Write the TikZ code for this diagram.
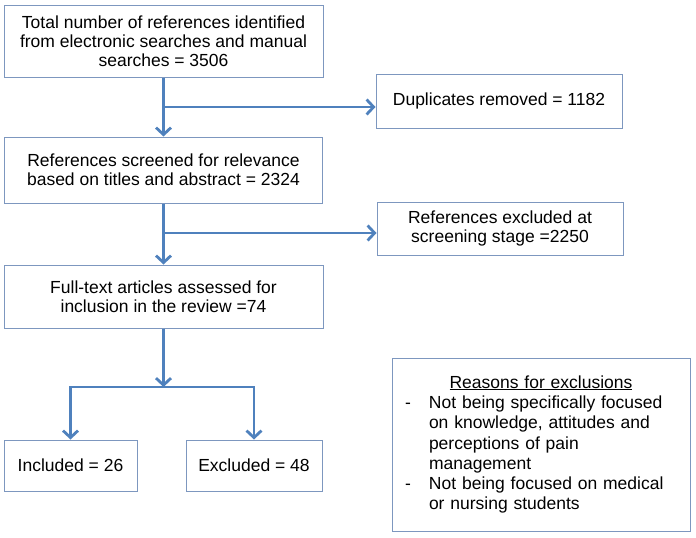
\documentclass[tikz,border=0pt]{standalone}
\usepackage{fontspec}
\setmainfont{Liberation Sans}
\usetikzlibrary{arrows.meta}
\definecolor{flowblue}{HTML}{4F81BD}
\definecolor{boxedge}{HTML}{7D97BF}
\begin{document}
\begin{tikzpicture}[x=1pt, y=-1pt,
	flowbox/.style={draw=boxedge, line width=1pt, align=center, inner sep=0, font=\fontsize{17.5}{19}\selectfont},
	flowarrow/.style={draw=flowblue, line width=2.8pt, -{Straight Barb[length=7pt,width=15pt]}}]
\useasboundingbox (0,0) rectangle (696,538);

\node [flowbox, minimum width=319, minimum height=72] (total) at (163.5,41) {Total number of references identified\\from electronic searches and manual\\searches = 3506};
\node [flowbox, minimum width=318, minimum height=66] (screened) at (163.5,170) {References screened for relevance\\based on titles and abstract = 2324};
\node [flowbox, minimum width=319, minimum height=63] (fulltext) at (163.5,296.5) {Full-text articles assessed for\\inclusion in the review =74};
\node [flowbox, minimum width=133, minimum height=51] (incl) at (70.5,465.5) {Included = 26};
\node [flowbox, minimum width=136, minimum height=51] (excl) at (254,465.5) {Excluded = 48};
\node [flowbox, minimum width=246, minimum height=54] (dupl) at (499,101) {Duplicates removed = 1182};
\node [flowbox, minimum width=246, minimum height=53] (screx) at (500,228.5) {References excluded at\\screening stage =2250};
\node [draw=boxedge, line width=1pt, inner xsep=13, inner ysep=0, text width=272, minimum height=173, font=\fontsize{17.5}{20.3}\selectfont] (reasons) at (541,444.5) {{\centering\underline{Reasons for exclusions}\par}
\raggedright\noindent\hangindent=24pt\hangafter=1\makebox[24pt][l]{-}Not being specifically focused\newline on knowledge, attitudes and\newline perceptions of pain\newline management\par
\noindent\hangindent=24pt\hangafter=1\makebox[24pt][l]{-}Not being focused on medical\newline or nursing students\par};

\coordinate (j1) at (163.5,107);
\coordinate (j2) at (163.5,233);
\coordinate (split) at (163.5,387);

\draw [flowarrow] (total.south) -- (total.south |- screened.north);
\draw [flowarrow] (j1) -- (j1 -| dupl.west);
\draw [flowarrow] (screened.south) -- (screened.south |- fulltext.north);
\draw [flowarrow] (j2) -- (j2 -| screx.west);
\draw [flowarrow] (fulltext.south) -- (split);
\draw [flowarrow] (split) -- (split -| incl.north) -- (incl.north);
\draw [flowarrow] (split) -- (split -| excl.north) -- (excl.north);
\end{tikzpicture}
\end{document}
